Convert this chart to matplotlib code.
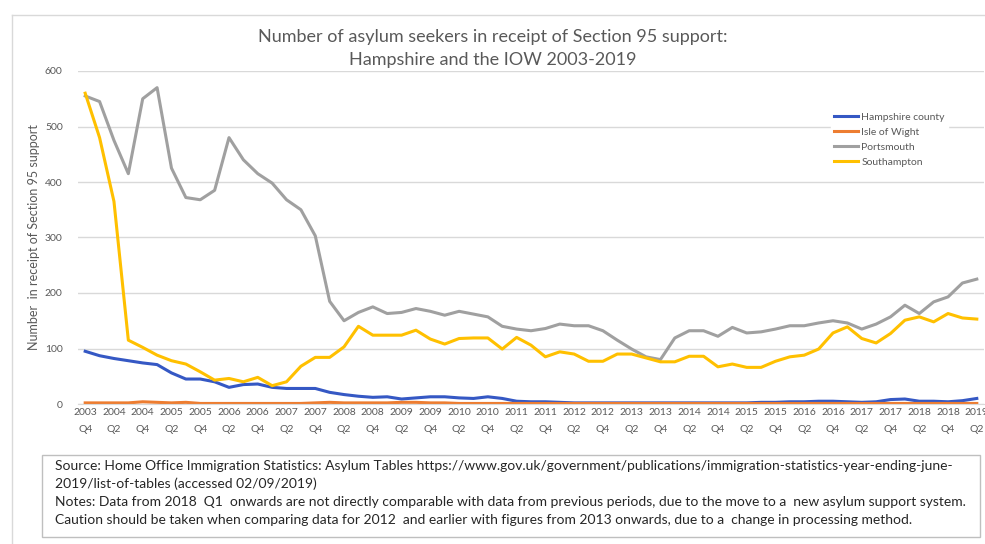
import matplotlib
matplotlib.use('Agg')
import matplotlib.pyplot as plt
from matplotlib.patches import Rectangle
from matplotlib.lines import Line2D
import numpy as np

plt.rcParams['font.family'] = ['Lato', 'DejaVu Sans']

# quarters 2003 Q4 .. 2019 Q2
quarters = []
yr, q = 2003, 4
while (yr, q) <= (2019, 2):
    quarters.append((yr, q))
    q += 1
    if q > 4:
        q = 1
        yr += 1

# values
hampshire = [95, 87, 82, 78, 74, 71, 56, 45, 45, 40, 30, 35, 36, 30, 28, 28,
             28, 21, 17, 14, 12, 13, 9, 11, 13, 13, 11, 10, 13, 10, 5, 4,
             4, 3, 2, 2, 2, 2, 2, 2, 2, 2, 2, 2, 2, 2, 2, 3,
             3, 4, 4, 5, 5, 4, 3, 4, 8, 9, 5, 5, 4, 6, 10]
isle_of_wight = [2, 2, 2, 2, 4, 3, 2, 3, 1, 1, 1, 1, 1, 1, 1, 1,
                 2, 3, 2, 2, 2, 2, 3, 3, 2, 2, 1, 1, 1, 1, 1, 1,
                 1, 1, 1, 1, 1, 1, 1, 1, 1, 1, 1, 1, 1, 1, 1, 1,
                 1, 1, 1, 1, 1, 1, 1, 1, 1, 1, 1, 1, 1, 1, 1]
portsmouth = [555, 545, 475, 415, 550, 570, 425, 372, 368, 385, 480, 440, 415, 398, 368, 350,
              303, 185, 150, 165, 175, 163, 165, 172, 167, 160, 167, 162, 157, 140, 135, 132,
              136, 144, 141, 141, 132, 115, 99, 85, 80, 119, 132, 132, 122, 138, 128, 130,
              135, 141, 141, 146, 150, 146, 135, 144, 157, 178, 163, 184, 193, 218, 225]
southampton = [560, 480, 365, 115, 102, 88, 78, 72, 58, 43, 46, 40, 48, 33, 40, 68,
               84, 84, 103, 140, 124, 124, 124, 133, 117, 108, 118, 119, 119, 99, 120, 106,
               85, 94, 90, 77, 77, 90, 90, 83, 76, 76, 86, 86, 67, 72, 66, 66,
               77, 85, 88, 99, 128, 139, 118, 110, 127, 151, 157, 148, 163, 155, 153]

series_names = ['Hampshire county', 'Isle of Wight', 'Portsmouth', 'Southampton']
colors = ['#3558C4', '#ED7D31', '#A0A0A0', '#FFC000']
yticks = [0, 100, 200, 300, 400, 500, 600]

W, H = 985, 544
fig = plt.figure(figsize=(W / 100, H / 100), dpi=100)
ax = fig.add_axes([78 / W, 1 - 404 / H, 906 / W, 333 / H])

x = np.arange(len(quarters))
for vals, name, c in zip([hampshire, isle_of_wight, portsmouth, southampton], series_names, colors):
    ax.plot(x, vals, color=c, lw=2.2, label=name, solid_joinstyle='round')

ax.set_xlim(-0.5, len(quarters) - 0.5)
ax.set_ylim(0, 600)
ax.set_yticks(yticks)
ax.grid(axis='y', color='#D9D9D9', lw=1)
ax.set_axisbelow(True)
for s in ['top', 'right', 'left']:
    ax.spines[s].set_visible(False)
ax.spines['bottom'].set_color('#D9D9D9')
ax.tick_params(axis='both', length=0, colors='#595959', labelsize=7.5)
ax.tick_params(axis='y', pad=11)
ax.tick_params(axis='x', pad=3)

tick_pos = x[::2]
ax.set_xticks(tick_pos)
ax.set_xticklabels(['%d\nQ%d' % quarters[i] for i in tick_pos], linespacing=2.1)

ax.set_ylabel('Number  in receipt of Section 95 support', color='#595959', fontsize=9)
ax.yaxis.set_label_coords((40 - 78) / 906, 0.5)

fig.text(0.5, 1 - 37 / H, 'Number of asylum seekers in receipt of Section 95 support:',
         ha='center', va='center', fontsize=13, color='#595959')
fig.text(0.5, 1 - 60 / H, 'Hampshire and the IOW 2003-2019',
         ha='center', va='center', fontsize=13, color='#595959')

leg = ax.legend(loc='upper left', bbox_to_anchor=(826 / W, 1 - 104 / H), bbox_transform=fig.transFigure,
                frameon=True, fontsize=7.5, handlelength=2.3, handletextpad=0.3, labelspacing=0.55,
                borderpad=0.3)
leg.get_frame().set_edgecolor('white')
leg.get_frame().set_facecolor('white')
leg.get_frame().set_alpha(1)
for t in leg.get_texts():
    t.set_color('#595959')

# outer chart border
fig.add_artist(Line2D([12 / W, 1], [1 - 15 / H, 1 - 15 / H], color='#D9D9D9', lw=1))
fig.add_artist(Line2D([12 / W, 12 / W], [0, 1 - 15 / H], color='#D9D9D9', lw=1))

# source box
fig.add_artist(Rectangle((42 / W, 1 - 537 / H), 938 / W, 82 / H, transform=fig.transFigure,
                         fill=False, edgecolor='#BFBFBF', lw=1))
notes = [
    'Source: Home Office Immigration Statistics: Asylum Tables https://www.gov.uk/government/publications/immigration-statistics-year-ending-june-',
    '2019/list-of-tables (accessed 02/09/2019)',
    'Notes: Data from 2018  Q1  onwards are not directly comparable with data from previous periods, due to the move to a  new asylum support system.',
    'Caution should be taken when comparing data for 2012  and earlier with figures from 2013 onwards, due to a  change in processing method.',
]
for i, line in enumerate(notes):
    fig.text(55 / W, 1 - (466 + i * 18) / H, line, ha='left', va='center', fontsize=10, color='#262626')

fig.savefig('out.png', dpi=100)
